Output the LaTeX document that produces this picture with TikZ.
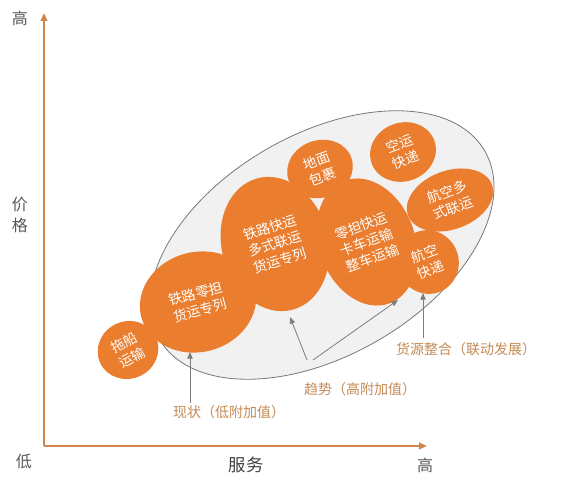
\documentclass[tikz,border=0pt]{standalone}
\usepackage{fontspec}
\setmainfont{Noto Sans CJK SC}
\usetikzlibrary{shapes.geometric,arrows.meta}
\definecolor{blob}{RGB}{234,125,46}
\definecolor{axiscol}{RGB}{208,132,78}
\definecolor{labcol}{RGB}{196,138,84}
\definecolor{arrgray}{RGB}{125,125,125}
\definecolor{ellfill}{RGB}{241,241,241}
\definecolor{ellline}{RGB}{120,120,120}
\tikzset{
  blobshape/.style={ellipse, fill=blob, draw=none, inner sep=0pt},
  blobtext/.style={inner sep=0pt, text=white, align=center,
    font=\fontsize{10.3}{12.8}\selectfont},
  axlab/.style={text=black!65, font=\fontsize{12}{14}\selectfont, inner sep=0pt},
  notelab/.style={text=labcol, font=\fontsize{10.5}{12}\selectfont, inner sep=0pt},
  ptr/.style={draw=arrgray, line width=0.6pt, -{Triangle[length=5pt,width=4pt]}},
  axisline/.style={draw=axiscol, line width=1.5pt, -{Triangle[length=6pt,width=5pt]}}
}
\begin{document}
\begin{tikzpicture}[x=0.75pt,y=0.75pt]
\useasboundingbox (0,0) rectangle (567,490);
% big ellipse
\node[ellipse, draw=ellline, fill=ellfill, line width=0.6pt, minimum width=282pt, minimum height=166pt, rotate=30, inner sep=0pt] (region) at (322,245) {};
% blob shapes
\node[blobshape, minimum width=46pt, minimum height=43pt, rotate=25] (tuochuan) at (128,140) {};
\node[blobshape, minimum width=88pt, minimum height=75pt, rotate=15] (tielu1) at (198,188) {};
\node[blobshape, minimum width=80pt, minimum height=102pt, rotate=15] (tielu2) at (275,246) {};
\node[blobshape, minimum width=50pt, minimum height=43pt, rotate=20] (dimian) at (320,321) {};
\node[blobshape, minimum width=72pt, minimum height=98pt, rotate=20] (lingdan) at (367,248) {};
\node[blobshape, minimum width=50pt, minimum height=44pt, rotate=20] (kongyun) at (403,338) {};
\node[blobshape, minimum width=67pt, minimum height=44pt, rotate=20] (hangkong1) at (450,290) {};
\node[blobshape, minimum width=46pt, minimum height=48pt, rotate=20] (hangkong2) at (428,228) {};
% blob texts
\node[blobtext, rotate=28] (tuochuanT) at (tuochuan) {拖船\\运输};
\node[blobtext, rotate=15] (tielu1T) at (tielu1) {铁路零担\\货运专列};
\node[blobtext, rotate=17] (tielu2T) at (tielu2) {铁路快运\\多式联运\\货运专列};
\node[blobtext, rotate=20] (dimianT) at (dimian) {地面\\包裹};
\node[blobtext, rotate=20] (lingdanT) at (lingdan) {零担快运\\卡车运输\\整车运输};
\node[blobtext, rotate=20] (kongyunT) at (kongyun) {空运\\快递};
\node[blobtext, rotate=20] (hangkong1T) at (hangkong1) {航空多\\式联运};
\node[blobtext, rotate=20] (hangkong2T) at (hangkong2) {航空\\快递};
% axes
\coordinate (origin) at (44,44);
\coordinate (ytop) at (44,477);
\coordinate (xend) at (427,44);
\draw[axisline] (origin) -- (ytop);
\draw[axisline] (origin) -- (xend);
\node[axlab] (ygao) at (20,472) {高};
\node[axlab, align=center, font=\fontsize{12}{16}\selectfont] (jiage) at (20,275) {价\\格};
\node[axlab] (di) at (24,29) {低};
\node[axlab, text=black!75, font=\fontsize{13}{15}\selectfont] (fuwu) at (246,25) {服务};
\node[axlab] (xgao) at (425,25) {高};
% notes
\node[notelab] (xianzhuang) at (229,78) {现状（低附加值）};
\node[notelab] (qushi) at (360,101) {趋势（高附加值）};
\node[notelab] (huoyuan) at (466,141) {货源整合（联动发展）};
\coordinate (t1) at (190,138);
\coordinate (t2) at (290,173);
\coordinate (t3) at (398,190);
\coordinate (t4) at (423,197);
\coordinate (q1) at (307,130);
\coordinate (q2) at (313,130);
\coordinate (x1) at (190,87);
\coordinate (h1) at (423,152);
\draw[ptr] (x1) -- (t1);
\draw[ptr] (q1) -- (t2);
\draw[ptr] (q2) -- (t3);
\draw[ptr] (h1) -- (t4);
\end{tikzpicture}
\end{document}
